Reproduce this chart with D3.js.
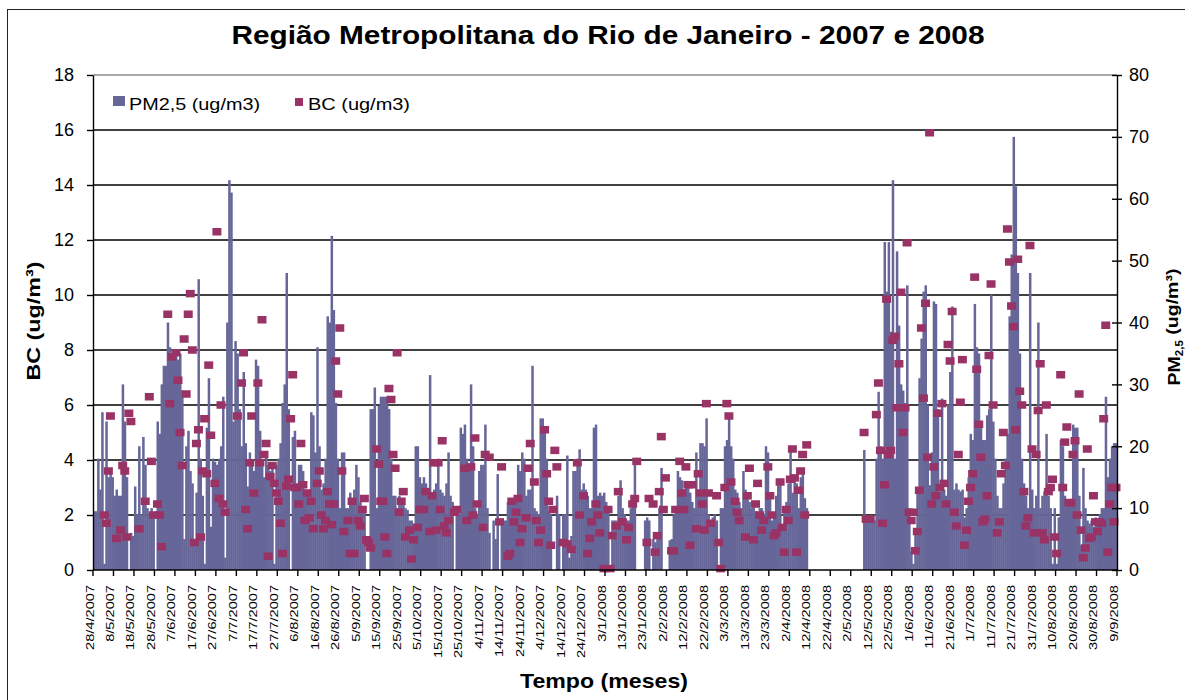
<!DOCTYPE html>
<html><head><meta charset="utf-8">
<script src="https://cdn.jsdelivr.net/npm/d3@7/dist/d3.min.js"></script>
<style>
body{margin:0;background:#fff}
svg{display:block}
text{font-family:"Liberation Sans",Arial,sans-serif;fill:#000}
</style>
</head><body>
<svg id="chart" width="1185" height="700"></svg>
<script>
// ---------------- DATA ----------------
const chartTitle = "Região Metropolitana do Rio de Janeiro - 2007 e 2008";
const startDate = "28/4/2007";   // day 0 ; one value per day, 500 days
const xTickLabels = ["28/4/2007","8/5/2007","18/5/2007","28/5/2007","7/6/2007","17/6/2007","27/6/2007","7/7/2007","17/7/2007","27/7/2007","6/8/2007","16/8/2007","26/8/2007","5/9/2007","15/9/2007","25/9/2007","5/10/2007","15/10/2007","25/10/2007","4/11/2007","14/11/2007","24/11/2007","4/12/2007","14/12/2007","24/12/2007","3/1/2008","13/1/2008","23/1/2008","2/2/2008","12/2/2008","22/2/2008","3/3/2008","13/3/2008","23/3/2008","2/4/2008","12/4/2008","22/4/2008","2/5/2008","12/5/2008","22/5/2008","1/6/2008","11/6/2008","21/6/2008","1/7/2008","11/7/2008","21/7/2008","31/7/2008","10/8/2008","20/8/2008","30/8/2008","9/9/2008"];
const bcTicks = [0,2,4,6,8,10,12,14,16,18];
const pmTicks = [0,10,20,30,40,50,60,70,80];
const N = null;
// PM2,5 (ug/m3), right axis — rows of 10 days
const pm25Rows = [
[9.5,9.5,18,13,25.5,1,24,15,16.5,15],
[12,13,12,12,30,24,15,0,6,5.5],
[13.5,9,20,9,21.5,17,10,9,10,9],
[0,24,22,30,33,33,40,36,34,35],
[35,34,35,29,5,20,22.5,16,14,4],
[12.5,47,18,12,1,23,31,7,18,17.5],
[17,18,20,28,2,40,63,61,24,37],
[35,26,20,32,20.5,13.5,19,17,16,34],
[33,22.5,17.5,15,18.5,17,16,17,1,17],
[18,20.5,27,30,48,26,0,21.5,22.5,14],
[17,17,16,13,12.5,13,25.5,25,19,36],
[20,13,14,18,41,40,54,42,27,18],
[10,19,19,10,10,12.5,11,13,17,15],
[11,9.5,10,0,0,26,26,29.5,10,26.5],
[28,28,28,28,26,18,12,12,10,12],
[11.5,11,10,9.7,8,8,7.5,20,20,15],
[14,15,14,12,31.5,12,13,14,18,13],
[12.5,12,14,19,12,11,0,9,9,23],
[22,23.5,18,17,30,20,10,9,16,17],
[17,23.5,10,6,0,8,5,15.5,0,8],
[8,8,11,11,11.5,11,11,17,16,19],
[18,12,13,13,33,10,9.5,9,24.5,24.5],
[23,18,9.5,9,0,0,12,9,0,9],
[9,18.5,2,5.5,16,16,18,19.5,13,14],
[13,12,10,10,23,23.5,12,12.5,12,12.5],
[11,10,0,8,8,8,12,14.5,10,9],
[8,8,10,11,17.5,0,0,0,0,8],
[8.5,8,0,5,4.5,5,10,16.5,0,0],
[0,4.8,5,9,10,16,15,14.5,13,14],
[14,12.5,11,10,19,12.5,20.5,20.5,20,24.5],
[9,8,8.5,9,8,0,10,10,20,21],
[25,20,18,13,12.5,11,10,16,13,12],
[11,10,10.5,9.5,9,10,10,9,20,19],
[12.5,8,9,12,13.7,14,7,10,11,14],
[19.5,12.5,15,14,10,15,16,11.6,10,N],
[N,N,N,N,N,N,N,N,N,N],
[N,N,N,N,N,N,N,N,N,N],
[N,N,N,N,N,N,19.4,8,8,8.5],
[8,8,18,28.8,20,18,53,45,53,38.5],
[63,18,51.5,39.5,30,29,27,46,10,3],
[1,6,12.7,31,37.4,45,46,26.7,13.7,19],
[43.4,43,26,12.7,27.7,13,12,26.7,32,42.6],
[13,14,13,12.7,13,8.5,10,15,22,21],
[43,36,35,23,21,21,25,26,44.5,24],
[18,12,10,10,14,18,22,41,51,70],
[62,48,35,18,14,12,10,48,13,10],
[12,40,10,12,12.7,22,12,10,1,10],
[1,8.5,21,20,12,11,11,11.5,23.5,23],
[23,12,4,16.5,10,8,7.5,8,7,8.5],
[8,9,10,10,28,15,18,20,20.5,20.5]
];
// BC (ug/m3), left axis — rows of 10 days
const bcRows = [
[N,N,N,N,N,2.0,1.7,3.6,5.6,N],
[N,1.15,N,1.45,3.8,3.6,1.2,5.7,5.4,N],
[N,N,1.5,N,N,2.5,N,6.3,3.95,2.0],
[N,2.4,2.0,0.85,N,N,9.3,6.05,7.75,N],
[7.9,6.9,5.0,3.8,8.4,6.4,9.3,10.05,8.0,1.0],
[4.6,5.1,1.2,3.6,5.5,3.5,7.45,4.9,N,3.15],
[12.3,2.6,6.0,2.4,2.1,N,N,N,N,N],
[5.6,N,6.8,7.9,2.2,1.5,3.9,5.6,2.8,N],
[6.8,3.9,9.1,4.2,4.6,0.5,3.4,3.8,3.15,2.8],
[2.5,1.7,0.6,N,3.05,3.3,5.5,7.1,3.0,3.0],
[2.4,4.6,3.1,1.8,2.8,1.9,2.5,1.5,N,3.15],
[3.6,2.0,1.5,1.8,2.85,2.4,1.65,2.4,7.6,6.4],
[8.8,3.6,1.4,N,1.8,0.6,2.5,0.6,N,1.8],
[1.6,2.2,2.6,1.1,1.0,0.8,N,N,4.4,3.85],
[2.5,2.5,1.2,0.6,6.6,6.2,4.2,3.7,7.9,2.1],
[2.5,2.85,1.2,N,1.45,0.4,1.1,N,1.55,2.2],
[N,2.2,2.85,N,1.4,2.7,3.9,1.45,3.9,2.2],
[4.7,1.6,1.35,1.8,N,N,2.1,2.2,N,N],
[N,3.7,1.8,N,3.75,2.0,4.8,2.4,N,N],
[1.55,4.2,N,4.1,N,N,N,N,1.75,3.75],
[N,N,0.5,0.6,2.5,1.75,2.1,2.6,1.0,1.5],
[N,1.9,3.7,4.6,N,3.2,1.8,1.0,1.45,N],
[5.1,3.5,2.5,0.9,2.2,4.35,3.75,N,N,1.0],
[N,0.95,N,0.75,N,N,3.9,2.0,N,2.7],
[N,0.6,1.15,1.75,N,2.4,2.0,1.35,N,0.05],
[N,2.2,0.05,1.25,N,1.6,2.85,N,1.75,N],
[1.1,1.55,N,2.4,2.6,3.95,N,N,N,N],
[1.0,2.6,N,2.4,0.65,1.25,2.85,4.85,2.2,3.35],
[N,N,0.7,0.7,2.2,N,3.95,2.8,2.2,3.75],
[3.1,0.9,3.1,N,1.5,3.5,2.8,2.4,1.45,6.05],
[2.8,1.7,N,N,2.7,1.0,0.05,N,3.0,6.05],
[5.6,3.2,N,2.5,2.1,1.8,N,N,1.2,2.7],
[3.7,N,1.1,2.4,3.15,2.0,1.45,1.8,N,3.75],
[2.7,2.0,1.25,1.35,N,3.2,1.55,0.65,2.2,1.8],
[3.3,4.4,3.35,0.65,2.9,3.6,4.2,2.0,4.55,N],
[N,N,N,N,N,N,N,N,N,N],
[N,N,N,N,N,N,N,N,N,N],
[N,N,N,N,N,N,5.0,1.85,N,1.85],
[N,N,5.65,6.8,4.35,1.7,3.1,9.85,4.2,4.35],
[8.35,8.5,5.9,7.5,10.1,5.0,5.9,11.9,2.1,1.8],
[2.1,0.7,1.4,2.9,8.8,6.25,9.7,4.1,15.9,2.4],
[3.75,2.7,5.7,3.0,6.05,3.15,2.4,8.2,7.6,9.4],
[2.1,1.6,4.2,6.1,7.65,0.9,1.45,2.5,3.0,3.5],
[10.65,7.3,5.3,4.1,1.75,1.85,2.7,7.8,10.4,6.0],
[N,1.35,1.75,3.5,5.0,3.8,12.4,11.2,9.6,8.85],
[5.1,11.3,6.5,6.0,2.85,1.6,1.9,11.8,4.4,1.35],
[4.2,5.8,7.5,1.35,1.1,6.0,2.85,3.0,3.3,1.2],
[0.6,N,7.1,3.0,4.65,5.2,2.45,2.45,4.2,4.7],
[2.0,6.4,1.45,0.45,0.8,4.4,1.15,1.2,2.7,1.75],
[1.4,1.75,1.7,5.5,8.9,0.65,2.4,3.0,1.75,3.0]
];
const pm25 = pm25Rows.flat();
const bc = bcRows.flat();
const seriesNames = ["PM2,5 (ug/m3)", "BC (ug/m3)"];

// ---------------- CHART ----------------
const svg = d3.select("#chart");
const L = 93, R = 1117, T = 75, B = 570;
const nDays = pm25.length;
const x = d3.scaleLinear().domain([0, nDays]).range([L, R]);
const yL = d3.scaleLinear().domain([0, 18]).range([B, T]);
const yR = d3.scaleLinear().domain([0, 80]).range([B, T]);
const barColor = "#666699", mkColor = "#993366";

// outer border
svg.append("rect").attr("x",7.5).attr("y",9.5).attr("width",1200).attr("height",720)
  .attr("fill","none").attr("stroke","#222").attr("stroke-width",1);

// title
svg.append("text").attr("x",608).attr("y",44).attr("text-anchor","middle")
  .attr("font-size",25).attr("font-weight","bold")
  .attr("textLength",753).attr("lengthAdjust","spacingAndGlyphs").text(chartTitle);

// gridlines
svg.append("g").selectAll("line").data(bcTicks.filter(d=>d>0))
  .join("line").attr("x1",L).attr("x2",R)
  .attr("y1",d=>yL(d)).attr("y2",d=>yL(d))
  .attr("stroke",d=>d===18?"#8c8c8c":"#000").attr("stroke-width",1.4);

// bars
const bw = x(1)-x(0);
svg.append("g").selectAll("rect")
  .data(pm25.map((v,i)=>({i,v})).filter(d=>d.v!=null && d.v>0))
  .join("rect")
  .attr("x",d=>x(d.i)).attr("width",bw+0.45)
  .attr("y",d=>yR(d.v)).attr("height",d=>yR(0)-yR(d.v))
  .attr("fill",barColor);

// markers
const mw = 9, mh = 7.5;
svg.append("g").selectAll("rect")
  .data(bc.map((v,i)=>({i,v})).filter(d=>d.v!=null))
  .join("rect")
  .attr("x",d=>x(d.i+0.5)-mw/2).attr("y",d=>yL(d.v)-mh/2)
  .attr("width",mw).attr("height",mh).attr("fill",mkColor);

// left axis
const gL = svg.append("g").attr("transform",`translate(${L},0)`)
  .call(d3.axisLeft(yL).tickValues(bcTicks).tickSizeInner(6).tickSizeOuter(0).tickPadding(13));
gL.selectAll("text").attr("font-size",18).attr("font-family","Liberation Sans, Arial, sans-serif");
gL.selectAll("line,path").attr("stroke","#000").attr("stroke-width",1.4);

// right axis
const gR = svg.append("g").attr("transform",`translate(${R},0)`)
  .call(d3.axisRight(yR).tickValues(pmTicks).tickSizeInner(5).tickSizeOuter(0).tickPadding(7));
gR.selectAll(".tick line").attr("x1",-5);
gR.selectAll("text").attr("font-size",18).attr("font-family","Liberation Sans, Arial, sans-serif");
gR.selectAll("line,path").attr("stroke","#000").attr("stroke-width",1.4);

// bottom axis
svg.append("line").attr("x1",L).attr("x2",R).attr("y1",B).attr("y2",B)
  .attr("stroke","#000").attr("stroke-width",1.6);
const gX = svg.append("g");
gX.selectAll("line").data(xTickLabels).join("line")
  .attr("x1",(d,k)=>x(k*10)).attr("x2",(d,k)=>x(k*10))
  .attr("y1",B).attr("y2",B+6).attr("stroke","#000").attr("stroke-width",1.4);
gX.selectAll("text").data(xTickLabels).join("text")
  .attr("transform",(d,k)=>`translate(${x(k*10)-3},585) rotate(-90) scale(1.46,1)`)
  .attr("text-anchor","end").attr("dy","0.35em").attr("font-size",10)
  .text(d=>d);

// axis titles
svg.append("text").attr("transform","translate(33,321) rotate(-90)")
  .attr("text-anchor","middle").attr("dy","0.35em")
  .attr("font-size",19).attr("font-weight","bold")
  .attr("textLength",119).attr("lengthAdjust","spacingAndGlyphs").text("BC (ug/m³)");

const rt = svg.append("text").attr("transform","translate(1174,327) rotate(-90) scale(1.15,1)")
  .attr("text-anchor","middle").attr("dy","0.35em")
  .attr("font-size",17).attr("font-weight","bold");
rt.append("tspan").text("PM");
rt.append("tspan").attr("font-size",10).attr("dy","0.3em").text("2,5");
rt.append("tspan").attr("dy","-0.3em").text(" (ug/m³)");

svg.append("text").attr("x",604).attr("y",688).attr("text-anchor","middle")
  .attr("font-size",21).attr("font-weight","bold")
  .attr("textLength",168).attr("lengthAdjust","spacingAndGlyphs").text("Tempo (meses)");

// legend
const lg = svg.append("g");
lg.append("rect").attr("x",113).attr("y",96).attr("width",12).attr("height",10).attr("fill",barColor);
lg.append("text").attr("x",129).attr("y",110).attr("font-size",16)
  .attr("textLength",131).attr("lengthAdjust","spacingAndGlyphs").text(seriesNames[0]);
lg.append("rect").attr("x",295).attr("y",98).attr("width",8).attr("height",8).attr("fill",mkColor);
lg.append("text").attr("x",308).attr("y",110).attr("font-size",16)
  .attr("textLength",102).attr("lengthAdjust","spacingAndGlyphs").text(seriesNames[1]);
</script>
</body></html>
